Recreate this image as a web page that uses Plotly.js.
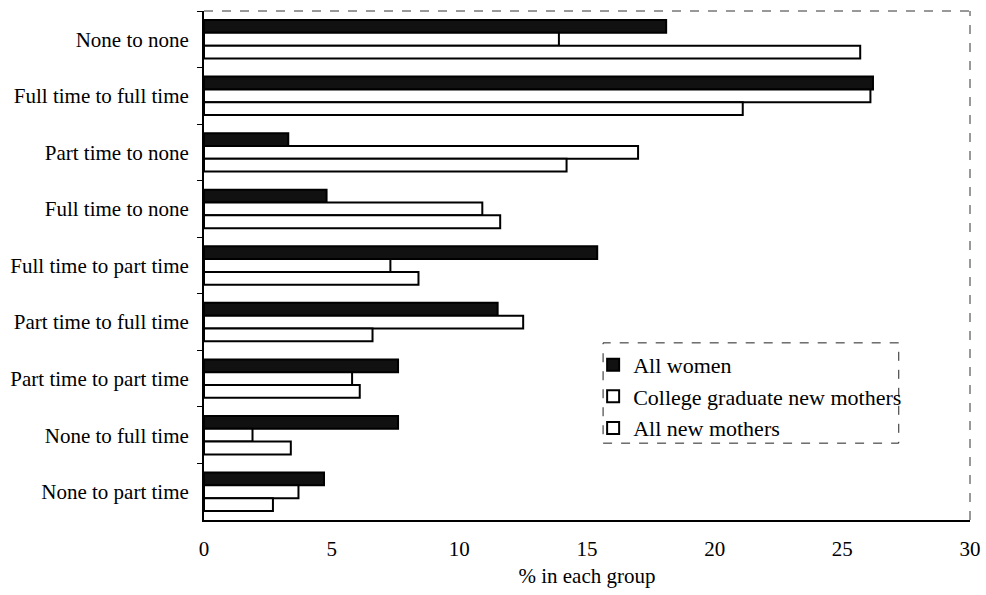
<!DOCTYPE html>
<html>
<head>
<meta charset="utf-8">
<script src="https://cdn.plot.ly/plotly-3.0.1.min.js"></script>
<style>
html,body{margin:0;padding:0;background:#fff;}
#chart{width:986px;height:595px;}
#chart text{font-family:'Liberation Serif','Times New Roman',serif !important;}
</style>
</head>
<body>
<div id="chart"></div>
<script>
var categories = ["None to none", "Full time to full time", "Part time to none", "Full time to none",
  "Full time to part time", "Part time to full time", "Part time to part time", "None to full time", "None to part time"];
var allWomen = [18.1, 26.2, 3.3, 4.8, 15.4, 11.5, 7.6, 7.6, 4.7];
var collegeGradMothers = [13.9, 26.1, 17.0, 10.9, 7.3, 12.5, 5.8, 1.9, 3.7];
var allNewMothers = [25.7, 21.1, 14.2, 11.6, 8.4, 6.6, 6.1, 3.4, 2.7];
var seriesNames = ["All women", "College graduate new mothers", "All new mothers"];
var xTicks = [0, 5, 10, 15, 20, 25, 30];

var SERIF = "Liberation Serif";
function makeBar(name, vals, fill) {
  return {
    type: "bar", orientation: "h", name: name, y: categories, x: vals,
    marker: {color: fill, line: {color: "#000", width: 2}}
  };
}
var data = [
  makeBar(seriesNames[0], allWomen, "#111"),
  makeBar(seriesNames[1], collegeGradMothers, "#fff"),
  makeBar(seriesNames[2], allNewMothers, "#fff")
];
var layout = {
  width: 986, height: 595,
  margin: {l: 204, r: 16, t: 11, b: 75},
  paper_bgcolor: "#fff", plot_bgcolor: "#fff",
  font: {family: SERIF, size: 20, color: "#000"},
  barmode: "group", bargap: 0.32, bargroupgap: 0,
  showlegend: true,
  legend: {
    x: 0.508, y: 0.346, xanchor: "left", yanchor: "top",
    bgcolor: "rgba(0,0,0,0)", borderwidth: 0,
    font: {family: SERIF, size: 22, color: "#000"},
    traceorder: "normal"
  },
  xaxis: {
    range: [0, 30], tickvals: xTicks, ticktext: xTicks.map(String),
    showgrid: false, zeroline: false, showline: true, linecolor: "#000", linewidth: 2,
    ticks: "", ticklabelstandoff: 9,
    tickfont: {family: SERIF, size: 21, color: "#000"},
    title: {text: "% in each group", font: {family: SERIF, size: 21, color: "#000"}, standoff: 8}
  },
  yaxis: {
    type: "category", autorange: "reversed",
    showgrid: false, zeroline: false, showline: true, linecolor: "#000", linewidth: 2,
    ticks: "outside", ticklen: 5, tickcolor: "#000", tickson: "boundaries",
    ticklabelstandoff: 9,
    tickfont: {family: SERIF, size: 21, color: "#000"}
  },
  shapes: [
    {type: "line", xref: "paper", yref: "paper", x0: 0, x1: 1, y0: 1, y1: 1, line: {color: "#333", width: 1, dash: "dash"}},
    {type: "line", xref: "paper", yref: "paper", x0: 1, x1: 1, y0: 0, y1: 1, line: {color: "#333", width: 1, dash: "dash"}},
    {type: "rect", xref: "paper", yref: "paper", x0: 0.521, x1: 0.907, y0: 0.151, y1: 0.348,
     fillcolor: "#fff", layer: "above", line: {color: "#222", width: 1, dash: "dash"}}
  ]
};
Plotly.newPlot("chart", data, layout, {displayModeBar: false, staticPlot: true});
</script>
</body>
</html>
